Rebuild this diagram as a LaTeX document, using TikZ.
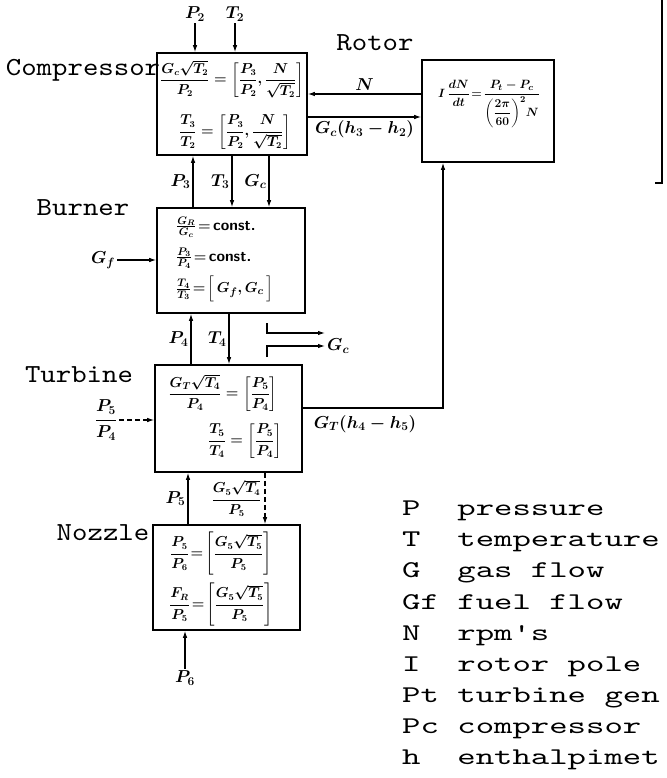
\documentclass[tikz,border=0pt]{standalone}
\usepackage{amsmath}
\usepackage{fontspec}
\newfontfamily\unittt{lmmono10-regular.otf}[FakeStretch=1.13]
\newfontfamily\keytt{lmmono10-regular.otf}[FakeStretch=1.46]
\newcommand{\unitfont}{\unittt\fontsize{26}{26}\selectfont}
\newcommand{\keyfont}{\keytt\fontsize{24}{24}\selectfont}
\newcommand{\eqnsize}{\fontsize{17}{20}\selectfont}
\newcommand{\boxeqsize}{\fontsize{13.5}{16}\selectfont}
\usetikzlibrary{arrows.meta}

\begin{document}
\begin{tikzpicture}[
      x=1pt, y=-1pt,
      block/.style={draw, line width=1.6pt, inner sep=0pt},
      signal/.style={line width=1.1pt, -{Latex[length=7pt,width=4.5pt]}},
      feed/.style={signal, dash pattern=on 5pt off 3pt},
      wire/.style={line width=1.4pt},
      unit/.style={font=\unitfont, inner sep=0pt},
      eqn/.style={font=\eqnsize\boldmath, inner sep=2pt},
      boxeq/.style={font=\boxeqsize\boldmath, inner sep=0pt},
      burneq/.style={font=\fontsize{15.5}{18}\selectfont\boldmath, inner sep=0pt, anchor=west},
      key/.style={font=\keyfont, anchor=base west, inner sep=0pt}
    ]
    \clip (0,0) rectangle (666,778);
    \node[unit] (compL) at (83,70) {Compressor};
    \node[unit] (rotL) at (375,43) {Rotor};
    \node[unit] (burnL) at (83,208) {Burner};
    \node[unit] (turbL) at (79,375) {Turbine};
    \node[unit] (nozL) at (103,533) {Nozzle};

    \node[block, minimum width=150pt, minimum height=102pt] (comp) at (232,104) {};
    \node[block, minimum width=132pt, minimum height=102pt] (rotor) at (488,111) {};
    \node[block, minimum width=148pt, minimum height=105pt] (burn) at (231,260.5) {};
    \node[block, minimum width=147pt, minimum height=107pt] (turb) at (228.5,418.5) {};
    \node[block, minimum width=147pt, minimum height=105pt] (noz) at (226.5,577.5) {};

    \node[boxeq] (ceq1) at (232,79) {$\dfrac{G_c\sqrt{T_2}}{P_2}=\left[\dfrac{P_3}{P_2},\dfrac{N}{\sqrt{T_2}}\right]$};
    \node[boxeq] (ceq2) at (235,132) {$\dfrac{T_3}{T_2}=\left[\dfrac{P_3}{P_2},\dfrac{N}{\sqrt{T_2}}\right]$};
    \node[boxeq, font=\fontsize{13}{15}\selectfont\boldmath] (req) at (489,104) {$I\,\dfrac{dN}{dt}\!=\!\dfrac{P_t-P_c}{\left(\dfrac{2\pi}{60}\right)^{2}\!N}$};
    \node[burneq] (beq1) at (176,227) {$\frac{G_R}{G_c}\!=$\,\textsf{\bfseries const.}};
    \node[burneq] (beq2) at (176,258) {$\frac{P_3}{P_4}\!=$\,\textsf{\bfseries const.}};
    \node[burneq] (beq3) at (176,289) {$\frac{T_4}{T_3}\!=\!\Big[\,G_f,G_c\,\Big]$};
    \node[boxeq, font=\fontsize{14.5}{17}\selectfont\boldmath] (teq1) at (223,393) {$\dfrac{G_T\sqrt{T_4}}{P_4}=\left[\dfrac{P_5}{P_4}\right]$};
    \node[boxeq, font=\fontsize{14.5}{17}\selectfont\boldmath] (teq2) at (245,441) {$\dfrac{T_5}{T_4}=\left[\dfrac{P_5}{P_4}\right]$};
    \node[boxeq] (neq1) at (221,554) {$\dfrac{P_5}{P_6}\!=\!\left[\dfrac{G_5\sqrt{T_5}}{P_5}\right]$};
    \node[boxeq] (neq2) at (221,605) {$\dfrac{F_R}{P_5}\!=\!\left[\dfrac{G_5\sqrt{T_5}}{P_5}\right]$};

    \node[eqn] (p2) at (195,14) {$P_2$};
    \node[eqn] (t2) at (235,14) {$T_2$};
    \draw[signal] (p2) -- (p2 |- comp.north);
    \draw[signal] (t2) -- (t2 |- comp.north);

    \coordinate (nrow) at (0,94);
    \coordinate (grow) at (0,117);
    \draw[signal] (rotor.west |- nrow) -- (comp.east |- nrow) node[eqn, midway, above=1pt] (nlab) {$N$};
    \draw[signal] (comp.east |- grow) -- (rotor.west |- grow) node[eqn, midway, below=1pt] (glab) {$G_c(h_3-h_2)$};

    \coordinate (p3x) at (193,0);
    \coordinate (t3x) at (232,0);
    \coordinate (gcx) at (269,0);
    \draw[signal] (burn.north -| p3x) -- (comp.south -| p3x) node[eqn, midway, left] {$P_3$};
    \draw[signal] (comp.south -| t3x) -- (burn.north -| t3x) node[eqn, midway, left] {$T_3$};
    \draw[signal] (comp.south -| gcx) -- (burn.north -| gcx) node[eqn, midway, left] {$G_c$};

    \node[eqn] (gf) at (103,260) {$G_f$};
    \draw[signal] (gf) -- (gf -| burn.west);

    \coordinate (p4x) at (191,0);
    \coordinate (t4x) at (229,0);
    \draw[signal] (turb.north -| p4x) -- (burn.south -| p4x) node[eqn, midway, left] {$P_4$};
    \draw[signal] (burn.south -| t4x) -- (turb.north -| t4x) node[eqn, midway, left] {$T_4$};

    \coordinate (o1) at (267,323);
    \coordinate (o1e) at (325,333);
    \coordinate (o2) at (267,357);
    \node[eqn, anchor=west] (gcout) at (325,346) {$G_c$};
    \draw[signal] (o1) |- (o1e);
    \draw[signal] (o2) |- (gcout.west);

    \coordinate (tr) at (443,408);
    \draw[signal] (turb.east |- tr) -- (tr) -- (rotor.south -| tr);
    \node[eqn] (tlab) at (365,424) {$G_T(h_4-h_5)$};

    \node[eqn] (pr) at (106,420) {$\dfrac{P_5}{P_4}$};
    \draw[feed] (pr) -- (pr -| turb.west);

    \coordinate (p5x) at (188,0);
    \coordinate (g5x) at (265,0);
    \draw[signal] (noz.north -| p5x) -- (turb.south -| p5x) node[eqn, midway, left] {$P_5$};
    \draw[feed] (turb.south -| g5x) -- (noz.north -| g5x) node[boxeq, midway, left=3pt] {$\dfrac{G_5\sqrt{T_4}}{P_5}$};

    \node[eqn] (p6) at (185,678) {$P_6$};
    \draw[signal] (p6) -- (p6 |- noz.south);

    \draw[wire] (662,0) -- (662,183) -- (655,183);

    \node[key] (kP) at (402,515) {P\ \ pressure};
    \node[key] (kT) at (402,546) {T\ \ temperature};
    \node[key] (kG) at (402,577) {G\ \ gas flow};
    \node[key] (kGf) at (402,609) {Gf fuel flow};
    \node[key] (kN) at (402,640) {N\ \ rpm's};
    \node[key] (kI) at (402,671) {I\ \ rotor pole};
    \node[key] (kPt) at (402,702) {Pt turbine gen};
    \node[key] (kPc) at (402,733) {Pc compressor};
    \node[key] (kh) at (402,764) {h\ \ enthalpimet};
  \end{tikzpicture}
\end{document}
